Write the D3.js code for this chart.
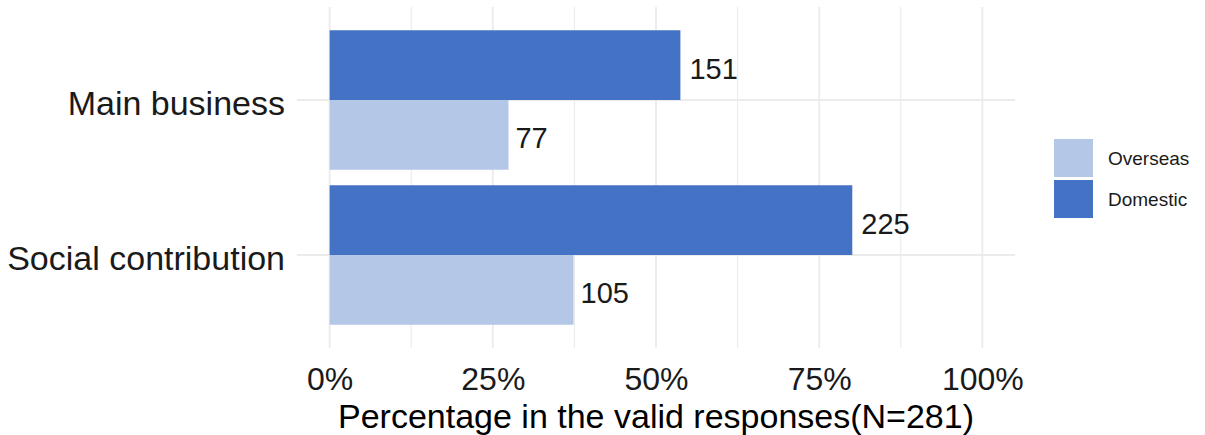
<!DOCTYPE html>
<html>
<head>
<meta charset="utf-8">
<script src="https://cdn.jsdelivr.net/npm/d3@7"></script>
<style>
  html, body { margin: 0; padding: 0; background: #fff; }
  svg { display: block; font-family: "Liberation Sans", Arial, sans-serif; }
</style>
</head>
<body>
<svg id="chart" width="1205" height="435"></svg>
<script>
// ---- data ----
const categories = ["Main business", "Social contribution"];
const domesticCounts = [151, 225];
const overseasCounts = [77, 105];
const totalN = 281;
const xTickValues = [0, 0.25, 0.5, 0.75, 1];
const xTickLabels = ["0%", "25%", "50%", "75%", "100%"];
const seriesNames = ["Overseas", "Domestic"];
const seriesColors = ["#B4C7E7", "#4472C4"];
const xTitle = "Percentage in the valid responses(N=281)";

// ---- layout ----
const svg = d3.select("#chart");
const panel = { left: 297, right: 1015, top: 7, bottom: 348 };

const x = d3.scaleLinear().domain([-0.05, 1.05]).range([panel.left, panel.right]);
const y = d3.scaleLinear().domain([0.4, categories.length + 0.6]).range([panel.top, panel.bottom]);
const barHalf = 0.45;

const gridColor = "#ebebeb";
const g = svg.append("g");

// minor vertical grid
const minor = [0.125, 0.375, 0.625, 0.875];
g.selectAll(".vminor").data(minor).enter().append("line")
  .attr("x1", d => x(d)).attr("x2", d => x(d))
  .attr("y1", panel.top).attr("y2", panel.bottom)
  .attr("stroke", gridColor).attr("stroke-width", 1.1);
// major vertical grid
g.selectAll(".vmajor").data(xTickValues).enter().append("line")
  .attr("x1", d => x(d)).attr("x2", d => x(d))
  .attr("y1", panel.top).attr("y2", panel.bottom)
  .attr("stroke", gridColor).attr("stroke-width", 1.8);
// horizontal grid at categories
g.selectAll(".hmajor").data(categories).enter().append("line")
  .attr("x1", panel.left).attr("x2", panel.right)
  .attr("y1", (d, i) => y(i + 1)).attr("y2", (d, i) => y(i + 1))
  .attr("stroke", gridColor).attr("stroke-width", 1.8);

// bars
const rows = categories.map((c, i) => ({
  cat: c, idx: i + 1,
  dom: domesticCounts[i], ovs: overseasCounts[i]
}));

rows.forEach(r => {
  // Domestic (upper half)
  g.append("rect")
    .attr("x", x(0)).attr("width", x(r.dom / totalN) - x(0))
    .attr("y", y(r.idx - barHalf)).attr("height", y(r.idx) - y(r.idx - barHalf))
    .attr("fill", seriesColors[1]);
  // Overseas (lower half)
  g.append("rect")
    .attr("x", x(0)).attr("width", x(r.ovs / totalN) - x(0))
    .attr("y", y(r.idx)).attr("height", y(r.idx + barHalf) - y(r.idx))
    .attr("fill", seriesColors[0]);
  // labels
  g.append("text")
    .attr("x", x(r.dom / totalN) + 9)
    .attr("y", (y(r.idx - barHalf) + y(r.idx)) / 2 + 13.5)
    .attr("font-size", 29).attr("fill", "#1a1a1a")
    .text(r.dom);
  g.append("text")
    .attr("x", x(r.ovs / totalN) + 7)
    .attr("y", (y(r.idx) + y(r.idx + barHalf)) / 2 + 13.5)
    .attr("font-size", 29).attr("fill", "#1a1a1a")
    .text(r.ovs);
});

// y axis labels
g.selectAll(".ylab").data(categories).enter().append("text")
  .attr("x", 285).attr("y", (d, i) => y(i + 1) + 15)
  .attr("text-anchor", "end").attr("font-size", 34).attr("fill", "#1a1a1a")
  .text(d => d);

// x axis tick labels
const xAxis = d3.axisBottom(x).tickValues(xTickValues)
  .tickFormat((d, i) => xTickLabels[i]).tickSize(0).tickPadding(0);
const ax = svg.append("g").attr("transform", "translate(0,390)").call(xAxis);
ax.select(".domain").remove();
ax.selectAll("text").attr("font-size", 32).attr("fill", "#1a1a1a")
  .attr("dy", 0).attr("y", 0)
  .attr("font-family", "Liberation Sans, Arial, sans-serif");

// x title
svg.append("text")
  .attr("x", (panel.left + panel.right) / 2).attr("y", 428)
  .attr("text-anchor", "middle").attr("font-size", 34).attr("fill", "#000")
  .text(xTitle);

// legend
const lg = svg.append("g");
seriesNames.forEach((s, i) => {
  lg.append("rect")
    .attr("x", 1054).attr("y", 139 + i * 41)
    .attr("width", 39).attr("height", 38)
    .attr("fill", seriesColors[i]);
  lg.append("text")
    .attr("x", 1108).attr("y", 139 + i * 41 + 26)
    .attr("font-size", 19).attr("fill", "#1a1a1a")
    .text(s);
});
</script>
</body>
</html>
